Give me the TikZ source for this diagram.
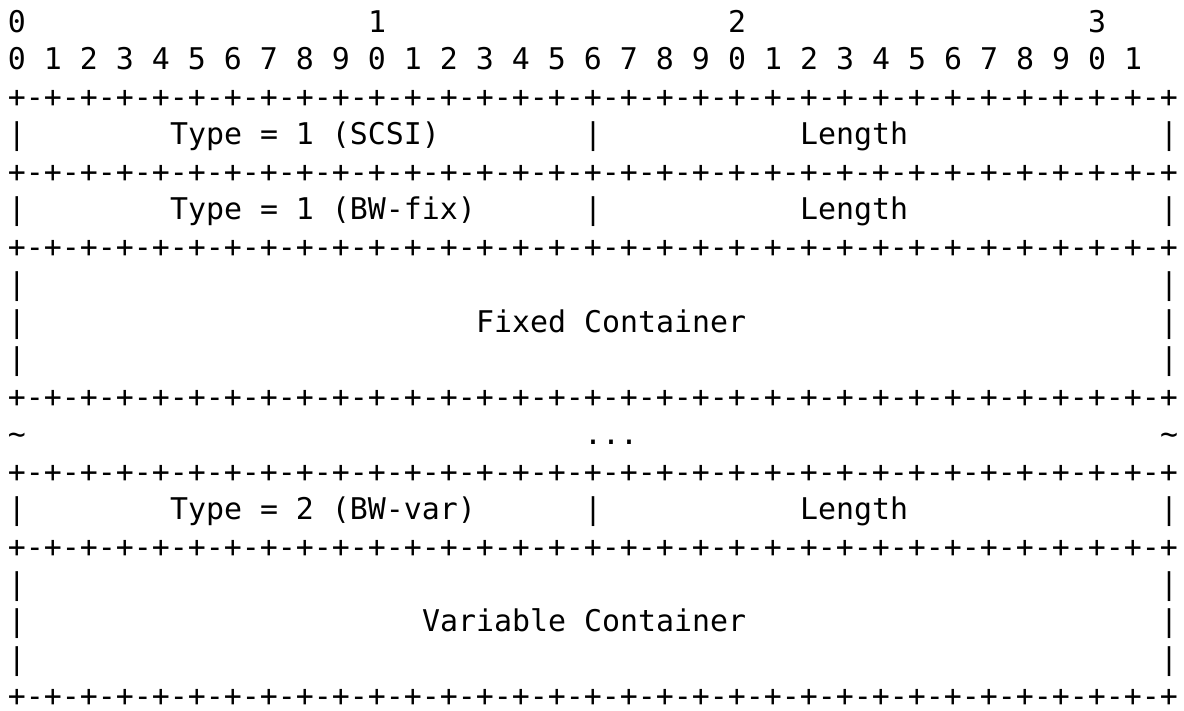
\documentclass[tikz,border=0pt]{standalone}
\usepackage{fontspec}
\newfontfamily\asciimono{DejaVu Sans Mono}
\usepackage{tikz}
\newcommand{\asciifont}{\asciimono\fontsize{29.9pt}{37.5pt}\selectfont\frenchspacing}
\newcommand{\sepline}{+-+-+-+-+-+-+-+-+-+-+-+-+-+-+-+-+-+-+-+-+-+-+-+-+-+-+-+-+-+-+-+-+}
\tikzset{
    ascii/.style={
        anchor=base west, inner sep=0pt, outer sep=0pt,
        font=\asciifont, text=black
    }
}

\begin{document}
\begin{tikzpicture}[x=18pt, y=-37.48pt]
    \useasboundingbox (-8pt,32.3pt) rectangle (1176pt,-677.7pt);

    % Bit ruler
    \node[ascii] (tens0) at (0,0) {0};
    \node[ascii] (tens1) at (20,0) {1};
    \node[ascii] (tens2) at (40,0) {2};
    \node[ascii] (tens3) at (60,0) {3};
    \node[ascii] (bits) at (0,1) {0 1 2 3 4 5 6 7 8 9 0 1 2 3 4 5 6 7 8 9 0 1 2 3 4 5 6 7 8 9 0 1};

    % Separator lines
    \foreach \r in {2,4,6,10,12,14,18}
        \node[ascii] (sep\r) at (0,\r) {\sepline};

    % Outer borders
    \foreach \r in {3,5,7,8,9,13,15,16,17} {
        \node[ascii] (left\r) at (0,\r) {|};
        \node[ascii] (right\r) at (64,\r) {|};
    }

    % Type / Length words
    \foreach \r in {3,5,13} {
        \node[ascii] (mid\r) at (32,\r) {|};
        \node[ascii] (len\r) at (44,\r) {Length};
    }
    \node[ascii] (scsi) at (9,3) {Type = 1 (SCSI)};
    \node[ascii] (bwfix) at (9,5) {Type = 1 (BW-fix)};
    \node[ascii] (bwvar) at (9,13) {Type = 2 (BW-var)};

    % Containers
    \node[ascii] (fixed) at (26,8) {Fixed Container};
    \node[ascii] (variable) at (23,16) {Variable Container};

    % Elided part
    \node[ascii] (tildeL) at (0,11) {\textasciitilde};
    \node[ascii] (dots) at (32,11) {...};
    \node[ascii] (tildeR) at (64,11) {\textasciitilde};

\end{tikzpicture}
\end{document}
